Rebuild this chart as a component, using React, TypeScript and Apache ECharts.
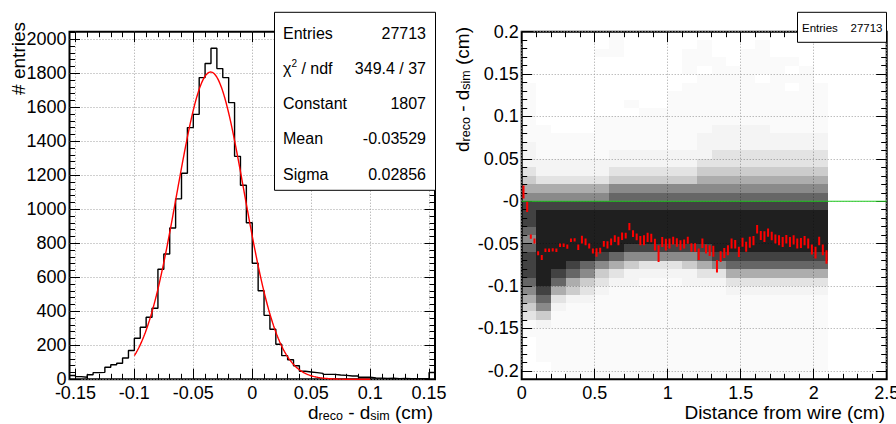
import React, { useEffect, useRef } from 'react';
import * as echarts from 'echarts';

const FONT = '"Liberation Sans", Arial, Helvetica, sans-serif';

// ---------- Left pad: histogram of d_reco - d_sim ----------
const histLow = -0.155;
const histBinWidth = 0.005;
const histCounts = [
  22, 16, 12, 27, 39, 41, 71, 86, 94, 125, 169, 241, 306, 365, 418, 647, 737, 890,
  1061, 1212, 1480, 1558, 1774, 1857, 1947, 1827, 1774, 1627, 1311, 1141,
  921, 682, 521, 376, 294, 206, 139,
  115, 80, 47, 43, 39, 35, 29, 29, 25, 23, 19, 19, 12, 12, 8, 7, 5, 6, 4, 5, 3, 4, 3, 3, 40,
];
const fitConstant = 1807;
const fitMean = -0.03529;
const fitSigma = 0.02856;
const fitRange = [-0.1, 0.1];
const statsNames = ['Entries', 'χ² / ndf', 'Constant', 'Mean', 'Sigma'];
const statsValues = ['27713', '349.4 / 37', '1807', '-0.03529', '0.02856'];
const leftXRange = [-0.155, 0.155];
const leftYRange = [0, 2044];
const leftXTicks = [-0.15, -0.1, -0.05, 0, 0.05, 0.1, 0.15];
const leftXLabels = ['-0.15', '-0.1', '-0.05', '0', '0.05', '0.1', '0.15'];
const leftYTicks = [0, 200, 400, 600, 800, 1000, 1200, 1400, 1600, 1800, 2000];
const leftYLabels = ['0', '200', '400', '600', '800', '1000', '1200', '1400', '1600', '1800', '2000'];

// ---------- Right pad: residual vs distance ----------
const rightXRange = [0, 2.5];
const rightYRange = [-0.21, 0.2];
const rightXTicks = [0, 0.5, 1, 1.5, 2, 2.5];
const rightXLabels = ['0', '0.5', '1', '1.5', '2', '2.5'];
const rightYTicks = [-0.2, -0.15, -0.1, -0.05, 0, 0.05, 0.1, 0.15, 0.2];
const rightYLabels = ['-0.2', '-0.15', '-0.1', '-0.05', '-0', '0.05', '0.1', '0.15', '0.2'];
const rightEntries = '27713';
const zeroLineValue = 0;

const profileBinWidth = 0.025;
const profileMeans = [
  0.011, -0.0067, -0.0417, -0.0468, -0.0613, -0.0664, -0.0578, -0.0578, -0.0574, -0.0578,
  -0.0519, -0.0519, -0.0535, -0.046, -0.0456, -0.0543, -0.0452, -0.048, -0.0527, -0.0586,
  -0.0605, -0.0582, -0.0503, -0.0515, -0.048, -0.044, -0.0468, -0.0413, -0.0405, -0.0299,
  -0.0381, -0.042, -0.0464, -0.046, -0.0425, -0.0433, -0.0511, -0.0617, -0.048, -0.0511,
  -0.0499, -0.0464, -0.0487, -0.0519, -0.0503, -0.046, -0.0546, -0.0546, -0.0625, -0.0495,
  -0.0562, -0.0582, -0.059, -0.0767, -0.0653, -0.0609, -0.0578, -0.0499, -0.0507, -0.0597,
  -0.0484, -0.0538, -0.0484, -0.0464, -0.033, -0.0405, -0.0417, -0.037, -0.0409, -0.0444,
  -0.046, -0.048, -0.0448, -0.048, -0.0456, -0.0499, -0.0491, -0.0464, -0.0499, -0.057,
  -0.0605, -0.0468, -0.0574, -0.0657,
];
const profileErrors = [
  0.0077, 0.006, 0.0024, 0.003, 0.0024, 0.003, 0.002, 0.002, 0.002, 0.002,
  0.002, 0.002, 0.0024, 0.002, 0.002, 0.0033, 0.0045, 0.004, 0.003, 0.003,
  0.005, 0.0033, 0.0033, 0.0043, 0.004, 0.004, 0.005, 0.0045, 0.0035, 0.0043,
  0.004, 0.004, 0.0055, 0.0059, 0.0055, 0.005, 0.0069, 0.0098, 0.0059, 0.0069,
  0.0059, 0.0045, 0.005, 0.0059, 0.0053, 0.004, 0.005, 0.005, 0.0069, 0.0055,
  0.0053, 0.0063, 0.0065, 0.0073, 0.0063, 0.0059, 0.0059, 0.0059, 0.005, 0.0059,
  0.0053, 0.0059, 0.0065, 0.0055, 0.005, 0.0053, 0.0063, 0.005, 0.005, 0.0053,
  0.0059, 0.0059, 0.005, 0.0059, 0.0055, 0.0059, 0.0059, 0.0055, 0.0059, 0.0059,
  0.0069, 0.005, 0.0063, 0.0079,
];

// scatter density of the 2D histogram, level 0..9 per 0.1 cm x 0.01 cm cell, top row first
const densityTop = 0.2;
const densityRowStep = 0.01;
const densityColStep = 0.1;
const densityRows = [
  '000000100000000000000',
  '000000100000100010000',
  '000001100001100110000',
  '000000000001110111100',
  '000000000001011111010',
  '000000000000111101110',
  '100000000001111111011',
  '100000000011111111111',
  '100000010011111111111',
  '100000001111111111111',
  '100001111111111111111',
  '110001111111122221111',
  '111111111111222222222',
  '211111111111222222222',
  '211111222222233333333',
  '222222222222333333333',
  '322222333333444444444',
  '433333444444555555555',
  '555555666666666666666',
  '666666777777777777777',
  '888888888888888888888',
  '899999999999999999999',
  '899999999999999999999',
  '799999999999999999999',
  '699999999999999999999',
  '799999988888899999999',
  '899998766666788888888',
  '899876543334567777777',
  '898764322222335555555',
  '797543221112223333333',
  '685432111111112222222',
  '573221111111111111111',
  '462111111111111111111',
  '341111111111111111111',
  '121111111111111111111',
  '111111111111111111111',
  '011111111111111111111',
  '011111111111111111111',
  '011111111111111111111',
  '001111111111111111111',
  '000111111111111111110',
];
const levelAlpha = [0, 0.018, 0.045, 0.11, 0.2, 0.32, 0.46, 0.6, 0.74, 0.88];

const r4 = (v: number) => Number(v.toFixed(6));

function labelFor(v: number, ticks: number[], labels: string[]) {
  for (let i = 0; i < ticks.length; i++) if (Math.abs(ticks[i] - v) < 1e-9) return labels[i];
  return '';
}

function minorValues(lo: number, hi: number, step: number, majorEvery: number) {
  const out: number[] = [];
  const n0 = Math.ceil(lo / step - 1e-9);
  const n1 = Math.floor(hi / step + 1e-9);
  for (let i = n0; i <= n1; i++) {
    if (i % majorEvery === 0) continue;
    out.push(r4(i * step));
  }
  return out;
}

function tickAxis(gridIndex: number, position: string, range: number[], values: number[], len: number) {
  return {
    type: 'value',
    gridIndex,
    position,
    min: range[0],
    max: range[1],
    axisLine: { show: false, onZero: false },
    axisTick: { show: true, inside: true, length: len, customValues: values, lineStyle: { color: '#000', width: 1 } },
    axisLabel: { show: false },
    splitLine: { show: false },
    minorTick: { show: false },
    minorSplitLine: { show: false },
    silent: true,
  } as any;
}

function mainAxis(gridIndex: number, position: string, range: number[], ticks: number[], labels: string[], len: number) {
  const a = tickAxis(gridIndex, position, range, ticks, len);
  a.axisLabel = {
    show: true,
    customValues: ticks,
    formatter: (v: number) => labelFor(v, ticks, labels),
    fontSize: 18,
    fontFamily: FONT,
    color: '#000',
    margin: position === 'bottom' ? 5 : 3,
  };
  a.splitLine = { show: true, lineStyle: { color: '#a0a0a0', width: 1, type: [1, 2] } };
  return a;
}

export default function App() {
  const ref = useRef<HTMLDivElement>(null);

  useEffect(() => {
    if (!ref.current) return;
    const chart = echarts.init(ref.current, undefined, { renderer: 'svg' });

    // histogram outline
    const histLine: number[][] = [];
    histCounts.forEach((c, i) => {
      const lo = histLow + i * histBinWidth;
      histLine.push([r4(lo), c]);
      histLine.push([r4(lo + histBinWidth), c]);
    });
    // gaussian fit drawn from the fit parameters shown in the stats box
    const fitLine: number[][] = [];
    const nFit = 300;
    for (let i = 0; i <= nFit; i++) {
      const x = fitRange[0] + ((fitRange[1] - fitRange[0]) * i) / nFit;
      const z = (x - fitMean) / fitSigma;
      fitLine.push([x, fitConstant * Math.exp(-0.5 * z * z)]);
    }
    // density cells
    const cells: number[][] = [];
    densityRows.forEach((row, r) => {
      const yHi = densityTop - r * densityRowStep;
      const yLo = yHi - densityRowStep;
      for (let c = 0; c < row.length; c++) {
        const lvl = Number(row[c]);
        if (!lvl) continue;
        cells.push([r4(c * densityColStep), r4((c + 1) * densityColStep), r4(yLo), r4(yHi), lvl]);
      }
    });
    const profile = profileMeans.map((m, i) => [r4((i + 0.5) * profileBinWidth), m, profileErrors[i]]);

    const leftXMinor = minorValues(leftXRange[0], leftXRange[1], 0.01, 5);
    const leftYMinor = minorValues(leftYRange[0], leftYRange[1], 40, 5);
    const rightXMinor = minorValues(rightXRange[0], rightXRange[1], 0.1, 5);
    const rightYMinor = minorValues(rightYRange[0], rightYRange[1], 0.01, 5);

    const MAJ = 10.5;
    const MIN = 5.5;

    const statsTop = 12.3;
    const statsRow0 = 33;
    const statsRowStep = 35.25;

    const graphics: any[] = [
      {
        type: 'rect',
        z: 100,
        shape: { x: 274.5, y: statsTop, width: 161, height: 178 },
        style: { fill: '#fff', stroke: '#000', lineWidth: 1 },
      },
    ];
    statsNames.forEach((name, i) => {
      const y = statsRow0 + i * statsRowStep;
      const hasSup = name.indexOf('²') >= 0;
      graphics.push({
        type: 'text',
        z: 101,
        x: 283,
        y,
        style: hasSup
          ? {
              text: '{t|' + name.replace('²', '}{sup|2}{t|') + '}',
              rich: {
                t: { fontSize: 16, fontFamily: FONT, fill: '#000', lineHeight: 20 },
                sup: { fontSize: 10, fontFamily: FONT, fill: '#000', lineHeight: 10, verticalAlign: 'top' },
              },
              align: 'left',
              verticalAlign: 'middle',
            }
          : { text: name, fontSize: 16, fontFamily: FONT, fill: '#000', align: 'left', verticalAlign: 'middle' },
      });
      graphics.push({
        type: 'text',
        z: 101,
        x: 426,
        y,
        style: { text: statsValues[i], fontSize: 16, fontFamily: FONT, fill: '#000', align: 'right', verticalAlign: 'middle' },
      });
    });
    // right entries box
    graphics.push({
      type: 'rect',
      z: 100,
      shape: { x: 797.5, y: 12.3, width: 89, height: 30 },
      style: { fill: '#fff', stroke: '#000', lineWidth: 1 },
    });
    graphics.push({
      type: 'text', z: 101, x: 802, y: 28.3,
      style: { text: 'Entries', fontSize: 11.5, fontFamily: FONT, fill: '#000', align: 'left', verticalAlign: 'middle' },
    });
    graphics.push({
      type: 'text', z: 101, x: 882.5, y: 28.3,
      style: { text: rightEntries, fontSize: 11.5, fontFamily: FONT, fill: '#000', align: 'right', verticalAlign: 'middle' },
    });

    const subRich = {
      n: { fontSize: 19, fontFamily: FONT, fill: '#000', lineHeight: 20 },
      s: { fontSize: 12.5, fontFamily: FONT, fill: '#000', lineHeight: 8, verticalAlign: 'bottom' },
    };
    const dTitle = '{n|d}{s|reco}{n| - d}{s|sim}{n| (cm)}';
    // axis titles
    graphics.push({
      type: 'text', z: 101, x: 433, y: 412.5,
      style: { text: dTitle, rich: subRich, align: 'right', verticalAlign: 'middle' },
    });
    graphics.push({
      type: 'text', z: 101, x: 462, y: 27, rotation: Math.PI / 2,
      style: { text: dTitle, rich: subRich, align: 'right', verticalAlign: 'middle' },
    });
    graphics.push({
      type: 'text', z: 101, x: 18, y: 22, rotation: Math.PI / 2,
      style: { text: '# entries', fontSize: 19, fontFamily: FONT, fill: '#000', align: 'right', verticalAlign: 'middle' },
    });
    graphics.push({
      type: 'text', z: 101, x: 885, y: 412,
      style: { text: 'Distance from wire (cm)', fontSize: 19, fontFamily: FONT, fill: '#000', align: 'right', verticalAlign: 'middle' },
    });

    const option: any = {
      animation: false,
      backgroundColor: '#fff',
      textStyle: { fontFamily: FONT },
      grid: [
        {
          left: 69.5, top: 31.7, width: 365.5, height: 347.6,
          show: true, borderColor: '#000', borderWidth: 2, backgroundColor: 'transparent',
          containLabel: false, outerBoundsMode: 'none',
        },
        {
          left: 521.7, top: 31.7, width: 365, height: 347.6,
          show: true, borderColor: '#000', borderWidth: 2, backgroundColor: 'transparent',
          containLabel: false, outerBoundsMode: 'none',
        },
      ],
      xAxis: [
        mainAxis(0, 'bottom', leftXRange, leftXTicks, leftXLabels, MAJ),
        tickAxis(0, 'bottom', leftXRange, leftXMinor, MIN),
        tickAxis(0, 'top', leftXRange, leftXTicks, MAJ),
        tickAxis(0, 'top', leftXRange, leftXMinor, MIN),
        mainAxis(1, 'bottom', rightXRange, rightXTicks, rightXLabels, MAJ),
        tickAxis(1, 'bottom', rightXRange, rightXMinor, MIN),
        tickAxis(1, 'top', rightXRange, rightXTicks, MAJ),
        tickAxis(1, 'top', rightXRange, rightXMinor, MIN),
      ],
      yAxis: [
        mainAxis(0, 'left', leftYRange, leftYTicks, leftYLabels, MAJ),
        tickAxis(0, 'left', leftYRange, leftYMinor, MIN),
        tickAxis(0, 'right', leftYRange, leftYTicks, MAJ),
        tickAxis(0, 'right', leftYRange, leftYMinor, MIN),
        mainAxis(1, 'left', rightYRange, rightYTicks, rightYLabels, MAJ),
        tickAxis(1, 'left', rightYRange, rightYMinor, MIN),
        tickAxis(1, 'right', rightYRange, rightYTicks, MAJ),
        tickAxis(1, 'right', rightYRange, rightYMinor, MIN),
      ],
      series: [
        {
          type: 'line',
          xAxisIndex: 0,
          yAxisIndex: 0,
          data: histLine,
          symbol: 'none',
          lineStyle: { color: '#000', width: 1.4 },
          clip: true,
          silent: true,
          z: 3,
        },
        {
          type: 'line',
          xAxisIndex: 0,
          yAxisIndex: 0,
          data: fitLine,
          symbol: 'none',
          lineStyle: { color: '#ff0000', width: 1.4 },
          clip: true,
          silent: true,
          z: 4,
        },
        {
          type: 'custom',
          xAxisIndex: 4,
          yAxisIndex: 4,
          data: cells,
          encode: { x: [0, 1], y: [2, 3] },
          clip: true,
          silent: true,
          z: 2,
          renderItem: (_p: any, api: any) => {
            const p0 = api.coord([api.value(0), api.value(3)]);
            const p1 = api.coord([api.value(1), api.value(2)]);
            const x0 = Math.round(p0[0]);
            const y0 = Math.round(p0[1]);
            const x1 = Math.round(p1[0]);
            const y1 = Math.round(p1[1]);
            const a = levelAlpha[api.value(4)] || 0;
            return {
              type: 'rect',
              shape: { x: x0, y: y0, width: x1 - x0, height: y1 - y0 },
              style: { fill: 'rgba(0,0,0,' + a + ')' },
            };
          },
        },
        {
          type: 'line',
          xAxisIndex: 4,
          yAxisIndex: 4,
          data: [[rightXRange[0], zeroLineValue], [rightXRange[1], zeroLineValue]],
          symbol: 'none',
          lineStyle: { color: '#22cc22', width: 1.2 },
          silent: true,
          z: 3,
        },
        {
          type: 'custom',
          xAxisIndex: 4,
          yAxisIndex: 4,
          data: profile,
          encode: { x: 0, y: 1 },
          clip: true,
          silent: true,
          z: 4,
          renderItem: (_p: any, api: any) => {
            const x = api.value(0);
            const m = api.value(1);
            const e = api.value(2);
            const top = api.coord([x, m + e]);
            const bot = api.coord([x, m - e]);
            return {
              type: 'rect',
              shape: { x: top[0] - 1, y: top[1], width: 2, height: Math.max(1, bot[1] - top[1]) },
              style: { fill: '#ff0000' },
            };
          },
        },
      ],
      graphic: graphics,
    };

    chart.setOption(option);
    return () => chart.dispose();
  }, []);

  return (
    <div
      ref={ref}
      style={{ position: 'fixed', left: 0, top: 0, width: 896, height: 424, background: '#fff' }}
    />
  );
}
